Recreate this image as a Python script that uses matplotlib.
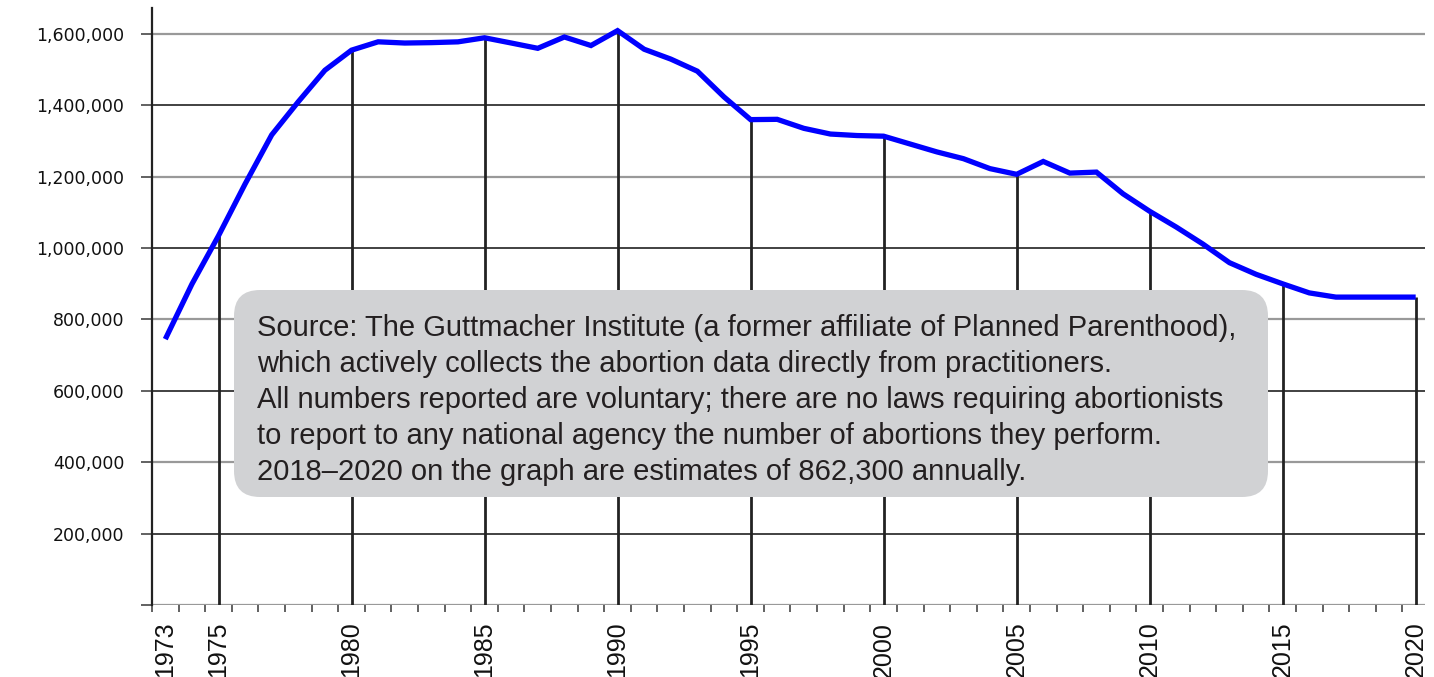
import matplotlib
matplotlib.use("Agg")
import matplotlib.pyplot as plt
from matplotlib.patches import FancyBboxPatch
from matplotlib.ticker import FuncFormatter, FixedLocator
import matplotlib.transforms as mtransforms

# Reported abortions per year (Guttmacher), 2018-2020 estimated
years = list(range(1973, 2021))
abortions = [
    744600, 898600, 1034200, 1179300, 1316700, 1409600, 1497700, 1553900,
    1577300, 1573900, 1575000, 1577200, 1588600, 1574000, 1559100, 1590800,
    1566900, 1608600, 1556500, 1528900, 1495000, 1423000, 1359400, 1360200,
    1335000, 1319000, 1314800, 1313000, 1291000, 1269000, 1250000, 1222100,
    1206200, 1242200, 1209600, 1212400, 1151600, 1102700, 1058500, 1011000,
    958700, 926200, 899500, 874100, 862300, 862300, 862300, 862300,
]
label_years = [1973, 1975, 1980, 1985, 1990, 1995, 2000, 2005, 2010, 2015, 2020]
drop_years = [1975, 1980, 1985, 1990, 1995, 2000, 2005, 2010, 2015, 2020]
y_ticks = [0, 200000, 400000, 600000, 800000, 1000000, 1200000, 1400000, 1600000]

note = (
    "Source: The Guttmacher Institute (a former affiliate of Planned Parenthood),\n"
    "which actively collects the abortion data directly from practitioners.\n"
    "All numbers reported are voluntary; there are no laws requiring abortionists\n"
    "to report to any national agency the number of abortions they perform.\n"
    "2018\u20132020 on the graph are estimates of 862,300 annually."
)

W, H = 1434, 677
fig = plt.figure(figsize=(W / 100, H / 100), dpi=100)
ax = fig.add_axes([152 / W, (H - 605) / H, (1425 - 152) / W, (605 - 8) / H])

ax.set_xlim(1972.5, 2020.35)
ax.set_ylim(0, 1672000)

# alternating light / dark horizontal rules
for i, v in enumerate(y_ticks):
    col = "#999999" if i % 2 == 0 else "#333333"
    ax.axhline(v, color=col, lw=1.6 if i % 2 == 0 else 1.3, zorder=1)

# drop lines from the axis to the curve
lookup = dict(zip(years, abortions))
ax.vlines(drop_years, 0, [lookup[y] for y in drop_years],
          color="#222222", lw=2, zorder=2)

ax.plot(years, abortions, color="#0000ff", lw=3.8, zorder=4,
        solid_capstyle="butt", solid_joinstyle="miter")

for s in ["top", "right", "bottom"]:
    ax.spines[s].set_visible(False)
ax.spines["left"].set_color("#222222")
ax.spines["left"].set_linewidth(1.6)

ax.yaxis.set_major_locator(FixedLocator(y_ticks))
ax.yaxis.set_major_formatter(FuncFormatter(lambda x, p: "" if x == 0 else f"{int(x):,}"))
ax.tick_params(axis="y", length=8, width=1.3, color="#555555", pad=12,
               labelsize=12.5, labelcolor="#111111")
for lab in ax.get_yticklabels():
    lab.set_fontfamily("DejaVu Sans")

ax.set_xticks(label_years)
ax.set_xticklabels([str(y) for y in label_years], rotation=90,
                   fontfamily="Liberation Sans", fontsize=18, color="#111111")
ax.set_xticks([y + 0.5 for y in range(1972, 2020)], minor=True)
ax.tick_params(axis="x", which="major", length=0, pad=12)
ax.tick_params(axis="x", which="minor", length=5, width=1.3, color="#555555")

# note box in pixel coordinates
ident = mtransforms.IdentityTransform()
box = FancyBboxPatch((234, H - 497), 1268 - 234, 497 - 290,
                     boxstyle="round,pad=0,rounding_size=26",
                     fc="#d1d2d4", ec="none", transform=ident, zorder=5)
fig.patches.append(box)
fig.text(257 / W, (H - 314) / H, note, ha="left", va="top",
         fontfamily="Liberation Sans", fontsize=21, color="#231f20",
         linespacing=1.36, zorder=6)

fig.savefig("out.png", dpi=100)
